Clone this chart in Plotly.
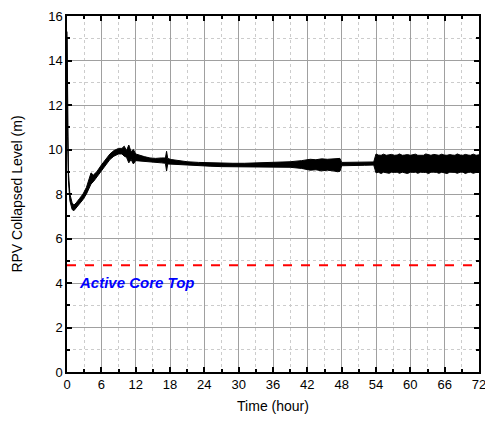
import plotly.graph_objects as go

# RPV collapsed level, envelope of the noisy signal (upper / lower edge)
time_h = [0.0, 0.1, 0.25, 0.5, 0.9, 1.2, 1.6, 2.2, 2.8, 3.4, 3.8, 4.2, 4.6, 5.2,
          6.0, 6.8, 7.5, 8.2, 9.0, 9.6, 10.0, 10.4, 10.8, 11.2, 11.6, 12.0,
          12.8, 13.5, 14.5, 15.5, 16.5, 17.2, 17.4, 17.6, 18.2, 19.5, 21, 23,
          25, 27, 29, 31, 33, 35, 37, 39, 41, 42.5, 43.5, 44.5, 45.5, 46.5,
          47.3, 47.7, 48, 50, 52, 53.6,
          54.0, 54.4, 54.9, 55.3, 55.8, 56.3, 56.7, 57.2, 57.7, 58.1, 58.6,
          59.0, 59.5, 60.0, 60.4, 60.9, 61.3, 61.8, 62.3, 62.7, 63.2, 63.6,
          64.1, 64.6, 65.0, 65.5, 65.9, 66.4, 66.9, 67.3, 67.8, 68.2, 68.7,
          69.2, 69.6, 70.1, 70.5, 71.0, 71.5, 72.0]
level_hi = [15.3, 11.0, 9.0, 8.0, 7.6, 7.5, 7.6, 7.8, 8.0, 8.3, 8.6, 8.95, 8.85,
            9.0, 9.3, 9.55, 9.8, 9.95, 10.05, 10.05, 10.15, 9.95, 10.2, 9.9,
            10.0, 9.8, 9.72, 9.68, 9.62, 9.6, 9.62, 9.62, 9.92, 9.6, 9.55, 9.5,
            9.45, 9.42, 9.4, 9.39, 9.38, 9.38, 9.39, 9.4, 9.42, 9.45, 9.5, 9.56,
            9.54, 9.58, 9.56, 9.58, 9.57, 9.6, 9.42, 9.42, 9.43, 9.44,
            9.8, 9.75, 9.74, 9.79, 9.74, 9.75, 9.78, 9.74, 9.75, 9.8, 9.74,
            9.75, 9.77, 9.74, 9.75, 9.79, 9.74, 9.75, 9.74, 9.8, 9.75, 9.74,
            9.78, 9.75, 9.74, 9.79, 9.75, 9.74, 9.77, 9.75, 9.74, 9.8, 9.75,
            9.74, 9.78, 9.75, 9.74, 9.79, 9.74, 9.76]
level_lo = [15.0, 10.6, 8.6, 7.7, 7.3, 7.25, 7.35, 7.55, 7.75, 8.0, 8.2, 8.45,
            8.55, 8.75, 9.05, 9.3, 9.55, 9.7, 9.8, 9.8, 9.7, 9.65, 9.4, 9.55,
            9.35, 9.5, 9.5, 9.48, 9.45, 9.42, 9.4, 9.38, 9.03, 9.35, 9.35, 9.32,
            9.3, 9.28, 9.25, 9.23, 9.22, 9.22, 9.22, 9.21, 9.2, 9.2, 9.15, 9.07,
            9.09, 9.04, 9.07, 9.04, 9.0, 9.02, 9.27, 9.28, 9.29, 9.3,
            8.95, 8.98, 8.92, 8.98, 8.97, 8.93, 8.98, 8.97, 8.98, 8.93, 8.98,
            8.97, 8.92, 8.98, 8.97, 8.98, 8.93, 8.98, 8.97, 8.97, 8.92, 8.98,
            8.98, 8.97, 8.93, 8.98, 8.97, 8.92, 8.98, 8.98, 8.97, 8.93, 8.98,
            8.98, 8.92, 8.97, 8.98, 8.93, 8.97, 8.98]

core_top = 4.8
core_x = [0, 72]
core_label = "Active Core Top"

x_ticks = list(range(0, 73, 6))
y_ticks = list(range(0, 17, 2))

fig = go.Figure()

fig.add_trace(go.Scatter(
    x=time_h + time_h[::-1],
    y=level_hi + level_lo[::-1],
    fill="toself", fillcolor="black",
    line=dict(color="black", width=1),
    mode="lines", hoverinfo="skip", showlegend=False))

fig.add_trace(go.Scatter(
    x=core_x, y=[core_top, core_top], mode="lines",
    line=dict(color="#ff0000", width=2, dash="dash"), showlegend=False))

fig.add_annotation(x=1.8, y=core_top - 0.78, text=f"<b><i>{core_label}</i></b>",
                   showarrow=False, xanchor="left", yanchor="middle",
                   font=dict(family="Arial", size=15, color="#0000ff"))

axis_common = dict(
    showline=True, linecolor="black", linewidth=1.5, mirror="ticks",
    ticks="inside", ticklen=5, tickwidth=1.5, tickcolor="black",
    showgrid=True, gridcolor="#a0a0a0", gridwidth=1, zeroline=False,
    automargin=False, ticklabeloverflow="allow",
    tickfont=dict(family="Arial", size=13, color="black"),
)

fig.update_xaxes(range=[0, 72], tickvals=x_ticks,
                 minor=dict(dtick=3, ticks="inside", ticklen=3, tickcolor="black",
                            showgrid=True, gridcolor="#cccccc", griddash="dot"),
                 title=dict(text="Time (hour)", standoff=10,
                            font=dict(family="Arial", size=14, color="black")),
                 **axis_common)
fig.update_yaxes(range=[0, 16], tickvals=y_ticks,
                 minor=dict(dtick=1, ticks="inside", ticklen=3, tickcolor="black",
                            showgrid=True, gridcolor="#cccccc", griddash="dot"),
                 title=dict(text="RPV Collapsed Level (m)", standoff=22,
                            font=dict(family="Arial", size=14, color="black")),
                 **axis_common)

fig.update_layout(
    width=485, height=423,
    margin=dict(l=67, r=6, t=16, b=51),
    plot_bgcolor="white", paper_bgcolor="white",
    font=dict(family="Arial", color="black"),
)

# page body has a default 8px margin; drop it so the figure fills the window
fig.write_html("out.html", config={"displayModeBar": False},
               post_script="document.body.style.margin='0';")
